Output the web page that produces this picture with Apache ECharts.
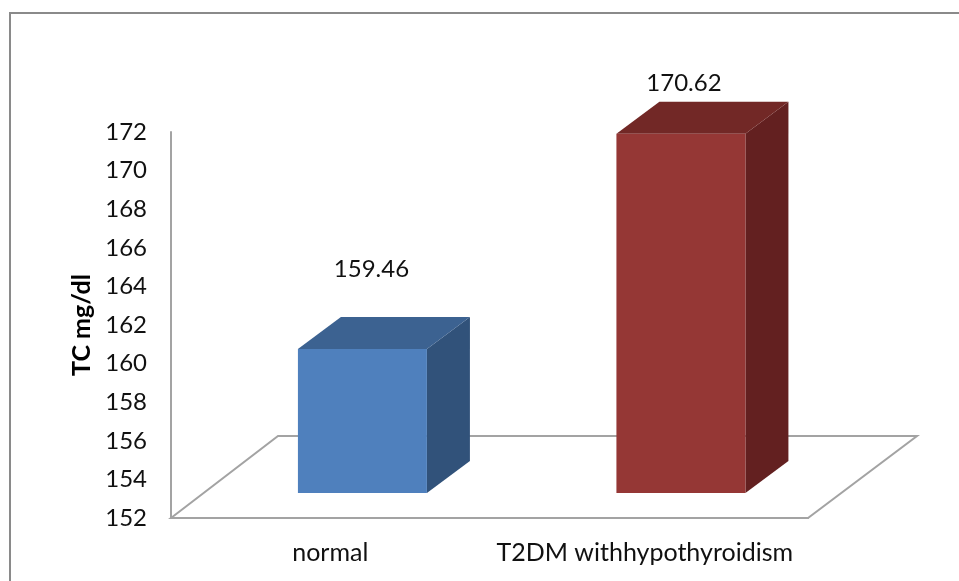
<!DOCTYPE html>
<html>
<head>
<meta charset="utf-8">
<style>html,body{margin:0;padding:0;background:#fff}#c{width:959px;height:581px}</style>
<script src="https://cdn.jsdelivr.net/npm/echarts@6/dist/echarts.min.js"></script>
</head>
<body>
<div id="c"></div>
<script>
const categories = ['normal', 'T2DM withhypothyroidism'];
const values = [159.46, 170.62];
const valueLabels = ['159.46', '170.62'];
const yTicks = { min: 152, max: 172, step: 2 };

const palette = [
  { front: '#4f80bd', side: '#31527a', top: '#3c6291' },
  { front: '#953735', side: '#632020', top: '#722826' }
];
const labelNudge = [[9, -48], [3, -18]];
const FONT = 'Lato';
const LINE = '#a3a3a3';
const TEXT = '#111';
const DX = 43, DY = 32, FRONT_LIFT = 25;

const chart = echarts.init(document.getElementById('c'), null, { renderer: 'canvas' });

function renderFloor(params) {
  const g = params.coordSys;
  const l = g.x, r = g.x + g.width, b = g.y + g.height;
  return {
    type: 'polygon',
    shape: { points: [[l, b], [l + 107, b - 82], [r + 109, b - 82], [r, b]] },
    style: { fill: 'none', stroke: LINE, lineWidth: 2 }
  };
}

function renderBar(params, api) {
  const i = params.dataIndex;
  const v = api.value(1);
  const c = api.coord([api.value(0), v]);
  const base = api.coord([api.value(0), yTicks.min]);
  const band = api.size([1, 0])[0];
  const w = band * 0.405;
  const x0 = c[0] + band * 0.101 - w / 2;
  const x1 = x0 + w;
  const yt = c[1] - FRONT_LIFT;
  const yb = base[1] - FRONT_LIFT;
  const col = palette[i];
  const nudge = labelNudge[i];
  return {
    type: 'group',
    children: [
      { type: 'polygon', shape: { points: [[x1, yt], [x1 + DX, yt - DY], [x1 + DX, yb - DY], [x1, yb]] }, style: { fill: col.side } },
      { type: 'polygon', shape: { points: [[x0, yt], [x0 + DX, yt - DY], [x1 + DX, yt - DY], [x1, yt]] }, style: { fill: col.top } },
      { type: 'rect', shape: { x: x0, y: yt, width: w, height: yb - yt }, style: { fill: col.front } },
      { type: 'text', style: { x: (x0 + x1) / 2 + nudge[0], y: yt - DY + nudge[1], text: valueLabels[i], font: '24px ' + FONT, fill: TEXT, align: 'center', verticalAlign: 'middle' } }
    ]
  };
}

chart.setOption({
  animation: false,
  backgroundColor: '#fff',
  graphic: [{
    type: 'rect', silent: true, z: -1,
    shape: { x: 10, y: 13, width: 1200, height: 900 },
    style: { fill: 'none', stroke: '#8a8a8a', lineWidth: 2 }
  }],
  grid: { left: 171, right: 151, top: 132, bottom: 63 },
  xAxis: {
    type: 'category',
    data: categories,
    axisLine: { show: true, lineStyle: { color: LINE, width: 2 } },
    axisTick: { show: false },
    axisLabel: {
      interval: 0, margin: 22, fontFamily: FONT, fontSize: 25, color: TEXT,
      formatter: (name, idx) => idx === 1 ? '{shifted|' + name + '}' : name,
      rich: { shifted: { fontFamily: FONT, fontSize: 25, color: TEXT, padding: [0, 8, 0, 0] } }
    }
  },
  yAxis: {
    type: 'value',
    min: yTicks.min, max: yTicks.max, interval: yTicks.step,
    name: 'TC mg/dl', nameLocation: 'middle', nameGap: 76, nameRotate: 90,
    nameTextStyle: { fontFamily: FONT, fontWeight: 'bold', fontSize: 25, color: '#000' },
    axisLine: { show: true, lineStyle: { color: LINE, width: 2 } },
    axisTick: { show: false },
    splitLine: { show: false },
    axisLabel: { margin: 24, fontFamily: FONT, fontSize: 24, color: TEXT, padding: [3, 0, 0, 0] }
  },
  series: [
    { type: 'custom', coordinateSystem: 'cartesian2d', renderItem: renderFloor, data: [[0, yTicks.min]], z: 1, silent: true },
    { type: 'custom', coordinateSystem: 'cartesian2d', renderItem: renderBar, data: categories.map((c, i) => [i, values[i]]), encode: { x: 0, y: 1 }, z: 2, silent: true }
  ]
});
</script>
</body>
</html>
